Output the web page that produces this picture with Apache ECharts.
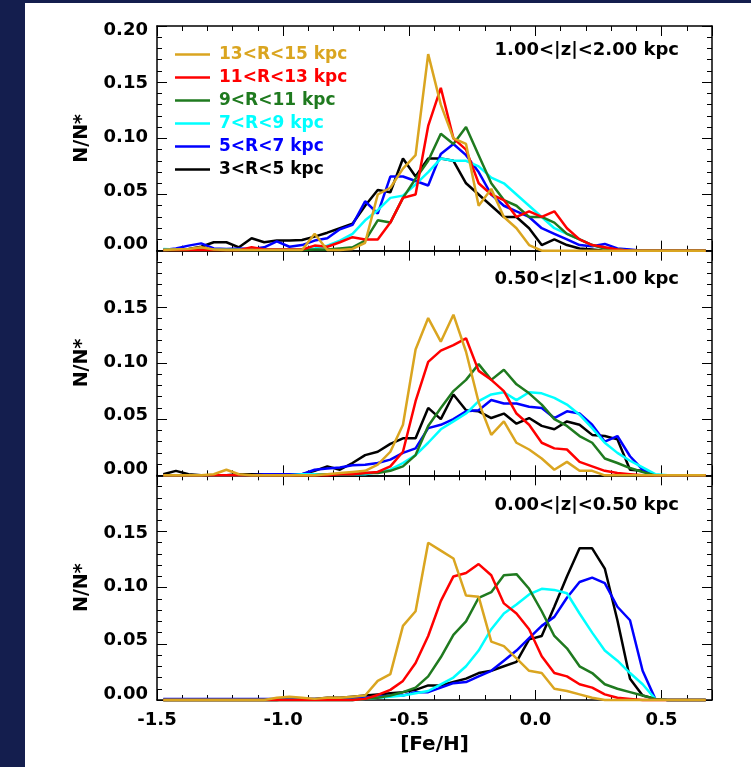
<!DOCTYPE html>
<html><head><meta charset="utf-8">
<script src="https://cdn.jsdelivr.net/npm/echarts@6/dist/echarts.min.js"></script>
<style>
html,body{margin:0;padding:0;background:#141e4e;width:751px;height:767px;overflow:hidden;}
#bg{position:absolute;left:25px;top:3px;width:726px;height:764px;background:#ffffff;}
#chart{position:absolute;left:0;top:0;width:751px;height:767px;}
</style></head><body>
<div id="bg"></div><div id="chart"></div>
<script>
// [Fe/H] bin centres
const bins = [-1.475,-1.425,-1.375,-1.325,-1.275,-1.225,-1.175,-1.125,-1.075,-1.025,
  -0.975,-0.925,-0.875,-0.825,-0.775,-0.725,-0.675,-0.625,-0.575,-0.525,
  -0.475,-0.425,-0.375,-0.325,-0.275,-0.225,-0.175,-0.125,-0.075,-0.025,
  0.025,0.075,0.125,0.175,0.225,0.275,0.325,0.375,0.425,0.475,
  0.525,0.575,0.625,0.675];

const ringNames = ['13<R<15 kpc','11<R<13 kpc','9<R<11 kpc','7<R<9 kpc','5<R<7 kpc','3<R<5 kpc'];
const ringColors = ['#DAA520','#FF0000','#1F7A1F','#00FFFF','#0000FF','#000000'];
const panelLabels = ['1.00<|z|<2.00 kpc','0.50<|z|<1.00 kpc','0.00<|z|<0.50 kpc'];
const xTickLabels = ['-1.5','-1.0','-0.5','0.0','0.5'];
const yTickLabels = ['0.00','0.05','0.10','0.15','0.20'];

// Panel 1: 1.00<|z|<2.00 kpc
const hi_13_15 = [0.0005,0.001,0.0015,0.003,0.001,0.0005,0.0005,0.0005,0.0005,0.0005,
  0.0005,0.0005,0.015,0.0005,0.0005,0.0015,0.007,0.050,0.056,0.073,
  0.085,0.175,0.130,0.100,0.095,0.040,0.055,0.030,0.020,0.005,
  0,0,0,0,0,0,0,0,0,0, 0,0,0,0];
const hi_11_13 = [0.0005,0.0005,0.0005,0.0005,0.0005,0.0005,0.0005,0.003,0.001,0.001,
  0.001,0.001,0.0045,0.0035,0.0075,0.012,0.010,0.010,0.025,0.047,
  0.050,0.111,0.145,0.100,0.090,0.060,0.050,0.045,0.030,0.035,
  0.030,0.035,0.020,0.010,0.005,0.003,0.001,0,0,0, 0,0,0,0];
const hi_9_11 = [0.0005,0.0005,0.0005,0.0005,0.0005,0.0005,0.0005,0.0005,0.0005,0.0005,
  0.0005,0.0005,0.001,0.001,0.002,0.003,0.009,0.027,0.025,0.047,
  0.064,0.080,0.104,0.095,0.110,0.085,0.060,0.045,0.040,0.030,
  0.030,0.025,0.015,0.010,0.005,0.002,0.001,0,0,0, 0,0,0,0];
const hi_7_9 = [0.0015,0.001,0.001,0.001,0.001,0.001,0.001,0.001,0.001,0.001,
  0.001,0.001,0.002,0.0045,0.009,0.015,0.027,0.036,0.047,0.049,
  0.059,0.070,0.082,0.080,0.080,0.075,0.065,0.060,0.050,0.040,
  0.030,0.020,0.015,0.010,0.005,0.002,0.001,0,0,0, 0,0,0,0];
const hi_5_7 = [0.0005,0.002,0.0045,0.0065,0.002,0.0015,0.002,0.0015,0.003,0.0083,
  0.0035,0.005,0.009,0.011,0.019,0.023,0.044,0.033,0.066,0.066,
  0.062,0.058,0.086,0.095,0.085,0.070,0.050,0.040,0.035,0.030,
  0.020,0.015,0.010,0.005,0.004,0.006,0.002,0.001,0,0, 0,0,0,0];
const hi_3_5 = [0.0005,0.001,0.0015,0.0035,0.0075,0.0075,0.003,0.011,0.0075,0.009,
  0.009,0.0095,0.0125,0.016,0.020,0.024,0.040,0.054,0.052,0.082,
  0.066,0.082,0.082,0.080,0.060,0.050,0.040,0.030,0.030,0.020,
  0.005,0.010,0.005,0.002,0.001,0,0,0,0,0, 0,0,0,0];

// Panel 2: 0.50<|z|<1.00 kpc
const mid_13_15 = [0,0,0,0,0.001,0.005,0.001,0,0,0,
  0,0,0,0.001,0.002,0.003,0.004,0.0095,0.021,0.045,
  0.112,0.140,0.119,0.143,0.110,0.065,0.036,0.048,0.029,0.023,
  0.015,0.005,0.012,0.004,0.004,0,0,0,0,0, 0,0,0,0];
const mid_11_13 = [0,0,0,0,0,0,0,0,0,0,
  0,0,0,0,0.001,0.001,0.002,0.003,0.008,0.021,
  0.066,0.101,0.111,0.116,0.122,0.093,0.085,0.075,0.055,0.045,
  0.029,0.024,0.023,0.012,0.008,0.004,0.002,0.001,0,0, 0,0,0,0];
const mid_9_11 = [0,0,0,0,0,0,0,0,0,0,
  0,0,0,0.001,0.001,0.001,0.002,0.002,0.004,0.008,
  0.018,0.044,0.060,0.075,0.085,0.099,0.085,0.094,0.081,0.073,
  0.063,0.050,0.044,0.035,0.029,0.015,0.011,0.0065,0.003,0, 0,0,0,0];
const mid_7_9 = [0,0,0,0,0,0,0,0,0,0,
  0,0.001,0.001,0.001,0.001,0.001,0.001,0.003,0.005,0.011,
  0.018,0.029,0.041,0.048,0.055,0.066,0.072,0.074,0.067,0.074,
  0.073,0.069,0.063,0.054,0.042,0.029,0.020,0.013,0.007,0.001, 0,0,0,0];
const mid_5_7 = [0,0,0,0,0,0,0,0,0.001,0.001,
  0.001,0.001,0.005,0.006,0.007,0.009,0.0095,0.011,0.014,0.020,
  0.024,0.042,0.045,0.050,0.057,0.058,0.067,0.064,0.064,0.061,
  0.060,0.051,0.057,0.055,0.045,0.030,0.035,0.017,0.005,0, 0,0,0,0];
const mid_3_5 = [0.001,0.004,0.001,0,0,0,0.001,0.001,0.001,0.001,
  0.001,0.001,0.004,0.008,0.005,0.011,0.018,0.021,0.028,0.033,
  0.033,0.060,0.050,0.072,0.058,0.057,0.051,0.055,0.046,0.051,
  0.044,0.041,0.048,0.045,0.036,0.035,0.032,0.005,0.004,0, 0,0,0,0];

// Panel 3: 0.00<|z|<0.50 kpc
const lo_13_15 = [0,0,0,0,0,0,0,0,0,0.002,
  0.003,0.002,0.001,0.002,0.002,0.003,0.004,0.017,0.023,0.066,
  0.079,0.140,0.133,0.126,0.093,0.092,0.052,0.048,0.037,0.026,
  0.024,0.010,0.008,0.005,0.002,0,0,0,0,0, 0,0,0,0];
const lo_11_13 = [0,0,0,0,0,0,0,0,0,0,
  0,0,0,0,0,0,0.001,0.0045,0.009,0.017,
  0.033,0.057,0.088,0.110,0.113,0.121,0.111,0.086,0.077,0.063,
  0.039,0.024,0.021,0.014,0.011,0.005,0.002,0.001,0,0, 0,0,0,0];
const lo_9_11 = [0,0,0,0,0,0,0,0,0,0,
  0,0,0,0,0,0,0.001,0.002,0.004,0.007,
  0.011,0.021,0.038,0.058,0.070,0.091,0.096,0.111,0.112,0.099,
  0.079,0.057,0.046,0.030,0.024,0.014,0.010,0.007,0.004,0.001, 0,0,0,0];
const lo_7_9 = [0,0,0,0,0,0,0,0,0,0,
  0,0,0,0,0,0,0.001,0.002,0.003,0.004,
  0.006,0.008,0.014,0.020,0.030,0.044,0.063,0.077,0.085,0.094,
  0.099,0.098,0.095,0.077,0.060,0.044,0.035,0.024,0.014,0.001, 0,0,0,0];
const lo_5_7 = [0.001,0.001,0.001,0.001,0.001,0.001,0.001,0.001,0.001,0.001,
  0.001,0.001,0.001,0.001,0.001,0.002,0.002,0.003,0.004,0.004,
  0.007,0.007,0.011,0.015,0.016,0.021,0.026,0.035,0.044,0.055,
  0.066,0.074,0.091,0.105,0.109,0.104,0.083,0.071,0.026,0.001, 0,0,0,0];
const lo_3_5 = [0,0,0,0,0,0,0,0,0,0,
  0.001,0.001,0.001,0.002,0.002,0.003,0.004,0.005,0.006,0.007,
  0.009,0.013,0.013,0.016,0.019,0.024,0.026,0.030,0.034,0.054,
  0.057,0.083,0.110,0.135,0.135,0.117,0.071,0.019,0.004,0.001, 0,0,0,0];

const panels = [
  [hi_13_15, hi_11_13, hi_9_11, hi_7_9, hi_5_7, hi_3_5],
  [mid_13_15, mid_11_13, mid_9_11, mid_7_9, mid_5_7, mid_3_5],
  [lo_13_15, lo_11_13, lo_9_11, lo_7_9, lo_5_7, lo_3_5]
];

const FONT = 'DejaVu Sans';
const gridTop = [26, 250.67, 475.33];
const gridH = 224.67;
const gridLeft = 157, gridW = 555;

const grids = [], xAxes = [], yAxes = [], series = [], graphics = [];
const yOffsets = {0: [0,0,12,0], 1: [0,0,7,0], 2: [0,0,2,0], 3: [3,0,0,0], 4: [8,0,0,0]};
const rich = {};
for (const k in yOffsets) rich['t' + k] = {padding: yOffsets[k], fontFamily: FONT, fontWeight: 'bold', fontSize: 18, color: '#000'};

for (let p = 0; p < 3; p++) {
  grids.push({left: gridLeft, top: gridTop[p], width: gridW, height: gridH, show: false});
  const xBase = {
    gridIndex: p, type: 'value', min: -1.5, max: 0.7, interval: 0.5,
    axisLine: {show: true, onZero: false, lineStyle: {color: '#000', width: 1.5}},
    axisTick: {show: true, inside: true, length: 10, lineStyle: {color: '#000', width: 1}},
    minorTick: {show: true, splitNumber: 5, length: 5, lineStyle: {color: '#000', width: 1}},
    splitLine: {show: false}, minorSplitLine: {show: false}
  };
  xAxes.push(Object.assign({}, xBase, {
    position: 'bottom',
    axisLabel: {
      show: p === 2, margin: 11, color: '#000', fontFamily: FONT, fontWeight: 'bold', fontSize: 18,
      showMinLabel: true, showMaxLabel: true, hideOverlap: false,
      formatter: function (v) {
        const k = Math.round((v + 1.5) / 0.5);
        return (Math.abs(v - (-1.5 + 0.5 * k)) < 1e-6 && k >= 0 && k < xTickLabels.length) ? xTickLabels[k] : '';
      }
    },
    name: p === 2 ? '[Fe/H]' : '', nameLocation: 'middle', nameGap: 35,
    nameTextStyle: {color: '#000', fontFamily: FONT, fontWeight: 'bold', fontSize: 20}
  }));
  xAxes.push(Object.assign({}, xBase, {position: 'top', axisLabel: {show: false}}));
  const yBase = {
    gridIndex: p, type: 'value', min: 0, max: 0.2, interval: 0.05,
    axisLine: {show: true, onZero: false, lineStyle: {color: '#000', width: 1.5}},
    axisTick: {show: true, inside: true, length: 10, lineStyle: {color: '#000', width: 1}},
    minorTick: {show: true, splitNumber: 5, length: 5, lineStyle: {color: '#000', width: 1}},
    splitLine: {show: false}, minorSplitLine: {show: false}
  };
  yAxes.push(Object.assign({}, yBase, {
    position: 'left',
    axisLabel: {
      show: true, margin: 9, showMinLabel: true, showMaxLabel: p === 0, hideOverlap: false,
      formatter: function (v) {
        const k = Math.round(v / 0.05);
        return '{t' + k + '|' + yTickLabels[k] + '}';
      },
      rich: rich
    },
    name: 'N/N*', nameLocation: 'middle', nameRotate: 90, nameGap: 65,
    nameTextStyle: {color: '#000', fontFamily: FONT, fontWeight: 'bold', fontSize: 19}
  }));
  yAxes.push(Object.assign({}, yBase, {position: 'right', axisLabel: {show: false}}));

  // draw order: inner rings first, outer (13<R<15) last on top
  for (let r = 5; r >= 0; r--) {
    const vals = panels[p][r];
    series.push({
      name: ringNames[r], type: 'line', xAxisIndex: 2 * p, yAxisIndex: 2 * p,
      data: bins.map((b, i) => [b, vals[i]]),
      symbol: 'none', showSymbol: false, clip: false, color: ringColors[r],
      lineStyle: {color: ringColors[r], width: 2.5}, emphasis: {disabled: true}, silent: true
    });
  }
}

const labelY = [50, 279, 505];
for (let p = 0; p < 3; p++) {
  graphics.push({
    type: 'text', x: 679, y: labelY[p],
    style: {text: panelLabels[p], fill: '#000', font: 'bold 18px "DejaVu Sans"', textAlign: 'right', textVerticalAlign: 'middle'}
  });
}

const chart = echarts.init(document.getElementById('chart'), null, {renderer: 'canvas'});
chart.setOption({
  animation: false,
  backgroundColor: 'transparent',
  grid: grids, xAxis: xAxes, yAxis: yAxes, series: series,
  legend: {
    show: true, orient: 'vertical', left: 170, top: 38, itemGap: 0,
    itemWidth: 35, itemHeight: 2.5, icon: 'rect', selectedMode: false,
    textStyle: {fontFamily: FONT, fontWeight: 'bold', fontSize: 17, lineHeight: 23, padding: [0, 0, 0, 4]},
    data: ringNames.map((n, i) => ({name: n, textStyle: {color: ringColors[i], fontFamily: FONT, fontWeight: 'bold', fontSize: 17, lineHeight: 23, padding: [0, 0, 0, 4]}}))
  },
  graphic: graphics
});
</script>
</body></html>
